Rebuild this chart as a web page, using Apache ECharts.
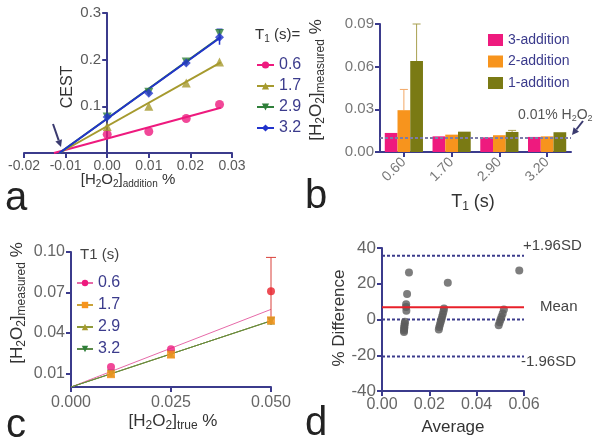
<!DOCTYPE html>
<html><head><meta charset="utf-8">
<script src="https://cdn.jsdelivr.net/npm/echarts@6/dist/echarts.min.js"></script>
<style>html,body{margin:0;padding:0;background:#fff}#c{width:604px;height:445px}</style>
</head><body><div id="c"></div>
<script>
// ---------- Panel a : CEST vs [H2O2]addition ----------
const aXValues = [0, 0.01, 0.019, 0.027];
const aT1Names = ['0.6', '1.7', '2.9', '3.2'];
const aCEST_06 = [0.040, 0.046, 0.074, 0.104];
const aCEST_17 = [0.057, 0.100, 0.150, 0.195];
const aCEST_29 = [0.077, 0.130, 0.195, 0.256];
const aCEST_32 = [0.077, 0.128, 0.193, 0.248];
const aErrLow_32 = [null, null, null, 0.232];
const aErrHigh_32 = [null, null, null, 0.265];
const aFitIntercepts = [-0.0128, -0.0115, -0.0115, -0.0115];
const aFitEndX = 0.0273;
const aFitEndY = [0.097, 0.194, 0.249, 0.248];
const aXTicks = [-0.02, 0.03];
const aYTicks = [0, 0.3];

// ---------- Panel b : measured vs T1 ----------
const bCategories = ['0.60', '1.70', '2.90', '3.20'];
const bSeriesNames = ['3-addition', '2-addition', '1-addition'];
const b3Addition = [0.0134, 0.0110, 0.0103, 0.0106];
const b2Addition = [0.0294, 0.0122, 0.0118, 0.0110];
const b1Addition = [0.0640, 0.0143, 0.0141, 0.0139];
const b2ErrHigh = [0.0440, null, null, null];
const b1ErrHigh = [0.0900, null, 0.0152, null];
const bReference = 0.01;

// ---------- Panel c : measured vs true ----------
const cTrue = [0.01, 0.025, 0.05];
const cT1Names = ['0.6', '1.7', '2.9', '3.2'];
const cMeas_06 = [0.0148, 0.0280, 0.0710];
const cMeas_17 = [0.0095, 0.0240, 0.0494];
const cMeas_29 = [0.0100, 0.0245, 0.0490];
const cMeas_32 = [0.0100, 0.0245, 0.0488];
const cErrLow_06 = [null, null, 0.046];
const cErrHigh_06 = [null, null, 0.096];
const cFitEndY = [0.0575, 0.0490, 0.0490, 0.0490];
const cYTickValues = [0.01, 0.04, 0.07, 0.10];

// ---------- Panel d : Bland-Altman ----------
const dAverage = [0.0114, 0.0106, 0.0102, 0.0102, 0.0103, 0.0097, 0.0096, 0.0095, 0.0094, 0.0094, 0.0093, 0.0093,
  0.0240, 0.0242, 0.0245, 0.0248, 0.0251, 0.0254, 0.0257, 0.0260, 0.0262, 0.0278,
  0.0493, 0.0497, 0.0501, 0.0505, 0.0510, 0.0515, 0.0580];
const dDifference = [26.3, 14.2, 8.6, 7.0, 4.9, -1.3, -2.3, -3.3, -4.3, -5.2, -6.1, -7.0,
  -5.6, -4.2, -2.8, -1.4, 0.0, 1.5, 3.0, 4.6, 6.2, 20.6,
  -3.2, -1.6, 0.0, 1.6, 3.4, 5.6, 27.4];
const dMean = 6.8;
const dUpper = 35.7;
const dLower = -20.7;
const dZero = 0;
const dXRange = [0, 0.06];

// ---------- styling ----------
const NAVY = '#3b3b8c', GREY = '#5a5a5a', DARK = '#333333';
const FONT = 'Liberation Sans, Arial, sans-serif';
const PINK = '#ee1a7e', OLIVE = '#a69a2e', GREEN = '#2f7f3a', BLUE = '#2233cc', ORANGE = '#f7941d', OLIVEBAR = '#7a7a14', RED = '#e8202a';
const aColors = [PINK, OLIVE, GREEN, BLUE];
const aSymbols = ['circle', 'triangle', 'path://M0,0 L10,0 L5,9 Z', 'diamond'];
const cColors = [PINK, ORANGE, OLIVE, GREEN];
const cSymbols = ['circle', 'rect', 'triangle', 'path://M0,0 L10,0 L5,9 Z'];

function axis(o) {
  const base = {
    axisLine: { show: true, onZero: false, lineStyle: { color: NAVY, width: 2 } },
    axisTick: { show: true, length: 5, lineStyle: { color: NAVY, width: 2 } },
    axisLabel: { color: GREY, fontSize: 14, fontFamily: FONT, margin: 6 },
    splitLine: { show: false }
  };
  for (const k in o) {
    if (base[k] && typeof o[k] === 'object' && !Array.isArray(o[k])) base[k] = Object.assign({}, base[k], o[k]);
    else base[k] = o[k];
  }
  return base;
}

function errRenderer(color, capHalf, lineWidth) {
  return function (params, api) {
    const x = api.value(0), lo = api.value(1), hi = api.value(2);
    const p1 = api.coord([x, lo]), p2 = api.coord([x, hi]);
    return { type: 'group', children: [
      { type: 'line', shape: { x1: p1[0], y1: p1[1], x2: p2[0], y2: p2[1] }, style: { stroke: color, lineWidth: lineWidth } },
      { type: 'line', shape: { x1: p2[0] - capHalf, y1: p2[1], x2: p2[0] + capHalf, y2: p2[1] }, style: { stroke: color, lineWidth: lineWidth } }
    ] };
  };
}
function barErrRenderer(color, seriesIdx, capHalf) {
  return function (params, api) {
    const ci = api.value(0), top = api.value(1), hi = api.value(2);
    const band = api.size([1, 0])[0];
    const bw = band * 0.8 / 3;
    const c1 = api.coord([ci, top]), c2 = api.coord([ci, hi]);
    const x = c1[0] + (seriesIdx - 1) * bw;
    return { type: 'group', children: [
      { type: 'line', shape: { x1: x, y1: c1[1], x2: x, y2: c2[1] }, style: { stroke: color, lineWidth: 1 } },
      { type: 'line', shape: { x1: x - capHalf, y1: c2[1], x2: x + capHalf, y2: c2[1] }, style: { stroke: color, lineWidth: 1 } }
    ] };
  };
}
function pairs(xs, ys) { return xs.map((x, i) => [x, ys[i]]); }
function errTriples(xs, lo, hi) { return xs.map((x, i) => [x, lo[i], hi[i]]).filter(d => d[1] != null); }

const series = [];
// panel a fits + markers
const aData = [aCEST_06, aCEST_17, aCEST_29, aCEST_32];
aT1Names.forEach((n, i) => {
  series.push({ type: 'line', name: 'a' + n, xAxisIndex: 0, yAxisIndex: 0, symbol: aSymbols[i], symbolSize: 9, showSymbol: false,
    color: aColors[i], lineStyle: { width: 2, color: aColors[i] }, silent: true, z: 2,
    data: [[aFitIntercepts[i], 0], [aFitEndX, aFitEndY[i]]] });
});
series.push({ type: 'custom', xAxisIndex: 0, yAxisIndex: 0, renderItem: errRenderer(BLUE, 3, 1.5), z: 3,
  data: errTriples(aXValues, aErrLow_32, aErrHigh_32) });
aT1Names.forEach((n, i) => {
  series.push({ type: 'scatter', name: 'am' + n, xAxisIndex: 0, yAxisIndex: 0, symbol: aSymbols[i], symbolSize: 9,
    itemStyle: { color: aColors[i] }, z: 4, data: pairs(aXValues, aData[i]) });
});
// panel b bars
const bData = [b3Addition, b2Addition, b1Addition];
const bColors = [PINK, ORANGE, OLIVEBAR];
bSeriesNames.forEach((n, i) => {
  series.push({ type: 'bar', name: n, xAxisIndex: 1, yAxisIndex: 1, data: bData[i], barGap: '0%', barCategoryGap: '20%',
    itemStyle: { color: bColors[i] }, z: 2,
    markLine: i === 0 ? { silent: true, symbol: 'none', label: { show: false },
      lineStyle: { color: '#7c7ca8', type: [3, 2], width: 2 }, data: [{ yAxis: bReference }] } : undefined });
});
series.push({ type: 'custom', xAxisIndex: 1, yAxisIndex: 1, renderItem: barErrRenderer('#f2a765', 1, 4), z: 1,
  data: bCategories.map((c, i) => [i, b2Addition[i], b2ErrHigh[i]]).filter(d => d[2] != null) });
series.push({ type: 'custom', xAxisIndex: 1, yAxisIndex: 1, renderItem: barErrRenderer('#a8a050', 2, 4), z: 1,
  data: bCategories.map((c, i) => [i, b1Addition[i], b1ErrHigh[i]]).filter(d => d[2] != null) });
// panel c
const cData = [cMeas_06, cMeas_17, cMeas_29, cMeas_32];
const cLineColors = ['#e66aa8', '#c9a33a', '#8e9a3a', '#5c8a4a'];
cT1Names.forEach((n, i) => {
  series.push({ type: 'line', name: 'c' + n, xAxisIndex: 2, yAxisIndex: 2, symbol: cSymbols[i], symbolSize: 8, showSymbol: false,
    color: cColors[i], lineStyle: { width: 1, color: cLineColors[i] }, silent: true, z: 2,
    data: [[0, 0], [cTrue[cTrue.length - 1], cFitEndY[i]]] });
});
series.push({ type: 'custom', xAxisIndex: 2, yAxisIndex: 2, renderItem: errRenderer('#d9403a', 5, 1), z: 3,
  data: errTriples(cTrue, cErrLow_06, cErrHigh_06) });
[3, 2, 0, 1].forEach(i => {
  series.push({ type: 'scatter', name: 'cm' + cT1Names[i], xAxisIndex: 2, yAxisIndex: 2, symbol: cSymbols[i], symbolSize: 8,
    itemStyle: { color: cColors[i] }, z: 4,
    data: pairs(cTrue, cData[i]).map((d, j) => (i === 0 && j === 2) ? { value: d, itemStyle: { color: RED } } : d) });
});
// panel d
const dotted = { color: NAVY, type: [3, 2], width: 2 };
[dUpper, dZero, dLower].forEach(v => {
  series.push({ type: 'line', xAxisIndex: 3, yAxisIndex: 3, symbol: 'none', silent: true, lineStyle: dotted, z: 1,
    data: [[dXRange[0], v], [dXRange[1], v]] });
});
series.push({ type: 'scatter', xAxisIndex: 3, yAxisIndex: 3, symbolSize: 8, itemStyle: { color: '#5c5c5c' }, z: 2,
  data: pairs(dAverage, dDifference) });
series.push({ type: 'line', xAxisIndex: 3, yAxisIndex: 3, symbol: 'none', silent: true, z: 3,
  lineStyle: { color: RED, width: 2 }, data: [[dXRange[0], dMean], [dXRange[1], dMean]] });

const sub = { fontSize: 10, fontFamily: FONT, fill: DARK, padding: [9, 0, 0, 0] };
function txt(x, y, text, o) {
  return Object.assign({ type: 'text', x: x, y: y, silent: true,
    style: Object.assign({ text: text, fill: DARK, fontSize: 15, fontFamily: FONT, align: 'center', verticalAlign: 'middle',
      rich: { s: Object.assign({}, sub), n: { fontSize: 15, fontFamily: FONT, fill: DARK } } }, o && o.style) }, o && o.el);
}
function arrow(x1, y1, x2, y2, color) {
  const ang = Math.atan2(y2 - y1, x2 - x1), L = 7, W = 3.5;
  const bx = x2 - L * Math.cos(ang), by = y2 - L * Math.sin(ang);
  const px = -Math.sin(ang) * W, py = Math.cos(ang) * W;
  return [
    { type: 'line', silent: true, shape: { x1: x1, y1: y1, x2: bx, y2: by }, style: { stroke: color, lineWidth: 2 } },
    { type: 'polygon', silent: true, shape: { points: [[x2, y2], [bx + px, by + py], [bx - px, by - py]] }, style: { fill: color } }
  ];
}

const graphic = [
  txt(68, 87, 'CEST', { el: { rotation: Math.PI / 2 }, style: { fontSize: 16 } }),
  txt(128, 180, '{n|[H}{s|2}{n|O}{s|2}{n|]}{s|addition}{n| %}', {}),
  txt(16, 199, 'a', { style: { fontSize: 40, fill: '#222' } }),
  txt(255, 35, '{n|T}{s|1}{n| (s)=}', { style: { align: 'left' } }),
  txt(316, 80, '{n|[H}{s|2}{n|O}{s|2}{n|]}{s|measured}{n| %}', { el: { rotation: Math.PI / 2 }, style: { rich: { s: Object.assign({}, sub, { fontSize: 12, padding: [10, 0, 0, 0] }), n: { fontSize: 17, fontFamily: FONT, fill: DARK } } } }),
  txt(473, 202, '{n|T}{s|1}{n| (s)}', { style: { rich: { s: Object.assign({}, sub, { fontSize: 12 }), n: { fontSize: 18, fontFamily: FONT, fill: DARK } } } }),
  txt(316, 197, 'b', { style: { fontSize: 40, fill: '#222' } }),
  txt(518, 115, '{n|0.01% H}{s|2}{n|O}{s|2}', { style: { align: 'left', rich: { s: Object.assign({}, sub, { fill: '#555', fontSize: 9, padding: [8, 0, 0, 0] }), n: { fontSize: 14, fontFamily: FONT, fill: '#555' } } } }),
  txt(17, 303, '{n|[H}{s|2}{n|O}{s|2}{n|]}{s|measured}{n| %}', { el: { rotation: Math.PI / 2 }, style: { rich: { s: Object.assign({}, sub, { fontSize: 12, padding: [10, 0, 0, 0] }), n: { fontSize: 17, fontFamily: FONT, fill: DARK } } } }),
  txt(173, 421, '{n|[H}{s|2}{n|O}{s|2}{n|]}{s|true}{n| %}', { style: { rich: { s: Object.assign({}, sub, { fontSize: 12 }), n: { fontSize: 17, fontFamily: FONT, fill: DARK } } } }),
  txt(16, 426, 'c', { style: { fontSize: 40, fill: '#222' } }),
  txt(80, 255, 'T1 (s)', { style: { align: 'left', fontSize: 15, fill: '#444' } }),
  txt(339, 318, '% Difference', { el: { rotation: Math.PI / 2 }, style: { fontSize: 17 } }),
  txt(453, 427, 'Average', { style: { fontSize: 17 } }),
  txt(316, 424, 'd', { style: { fontSize: 40, fill: '#222' } }),
  txt(523, 246, '+1.96SD', { style: { align: 'left', fontSize: 15, fill: '#444' } }),
  txt(540, 307, 'Mean', { style: { align: 'left', fontSize: 15, fill: '#444' } }),
  txt(521, 362, '-1.96SD', { style: { align: 'left', fontSize: 15, fill: '#444' } })
].concat(arrow(53, 124, 61, 147, '#3b3b70'), arrow(583, 121, 572, 135, '#3b3b70'));

const aGridLeft = 24, aGridWidth = 208;
const aYAxisOffset = -aGridWidth * (0 - aXTicks[0]) / (aXTicks[1] - aXTicks[0]);

const chart = echarts.init(document.getElementById('c'), null, { renderer: 'canvas' });
chart.setOption({
  animation: false,
  backgroundColor: '#ffffff',
  textStyle: { fontFamily: FONT },
  grid: [
    { left: aGridLeft, top: 13, width: aGridWidth, height: 140 },
    { left: 380, top: 24, width: 191, height: 128 },
    { left: 71, top: 252, width: 200, height: 135 },
    { left: 382, top: 248, width: 142, height: 143 }
  ],
  xAxis: [
    axis({ gridIndex: 0, type: 'value', min: aXTicks[0], max: aXTicks[1], interval: 0.01,
      axisLabel: { formatter: v => v.toFixed(2), fontSize: 14 } }),
    axis({ gridIndex: 1, type: 'category', data: bCategories, axisTick: { alignWithLabel: true },
      axisLabel: { rotate: 45, fontSize: 14, margin: 8, color: '#777' } }),
    axis({ gridIndex: 2, type: 'value', min: 0, max: 0.05, interval: 0.025,
      axisLabel: { formatter: v => v.toFixed(3), fontSize: 16, margin: 8, color: '#666' } }),
    axis({ gridIndex: 3, type: 'value', min: dXRange[0], max: dXRange[1], interval: 0.02,
      axisLabel: { formatter: v => v.toFixed(2), fontSize: 16, color: '#666' } })
  ],
  yAxis: [
    axis({ gridIndex: 0, type: 'value', min: aYTicks[0], max: aYTicks[1], interval: 0.1, offset: aYAxisOffset,
      axisLabel: { formatter: v => v.toFixed(1), showMinLabel: false, fontSize: 15 } }),
    axis({ gridIndex: 1, type: 'value', min: 0, max: 0.09, interval: 0.03,
      axisLabel: { formatter: v => v.toFixed(2), fontSize: 15, color: '#777' } }),
    axis({ gridIndex: 2, type: 'value', min: 0, max: 0.10,
      axisTick: { customValues: cYTickValues }, axisLabel: { customValues: cYTickValues, formatter: v => v.toFixed(2), fontSize: 16, color: '#666' } }),
    axis({ gridIndex: 3, type: 'value', min: -40, max: 40, interval: 20,
      axisLabel: { fontSize: 17, color: '#666' } })
  ],
  legend: [
    { data: aT1Names.map(n => 'a' + n), formatter: n => n.slice(1), orient: 'vertical', left: 251, top: 52,
      itemWidth: 17, itemHeight: 9, itemGap: 5, textStyle: { color: NAVY, fontSize: 16, fontFamily: FONT }, selectedMode: false },
    { data: bSeriesNames, orient: 'vertical', left: 483, top: 28, icon: 'rect', itemWidth: 15, itemHeight: 12, itemGap: 7.5,
      textStyle: { color: NAVY, fontSize: 14, fontFamily: FONT }, selectedMode: false },
    { data: cT1Names.map(n => 'c' + n), formatter: n => n.slice(1), orient: 'vertical', left: 71, top: 270,
      itemWidth: 16, itemHeight: 8, itemGap: 6, textStyle: { color: NAVY, fontSize: 16, fontFamily: FONT }, selectedMode: false }
  ],
  series: series,
  graphic: graphic
});
</script></body></html>
